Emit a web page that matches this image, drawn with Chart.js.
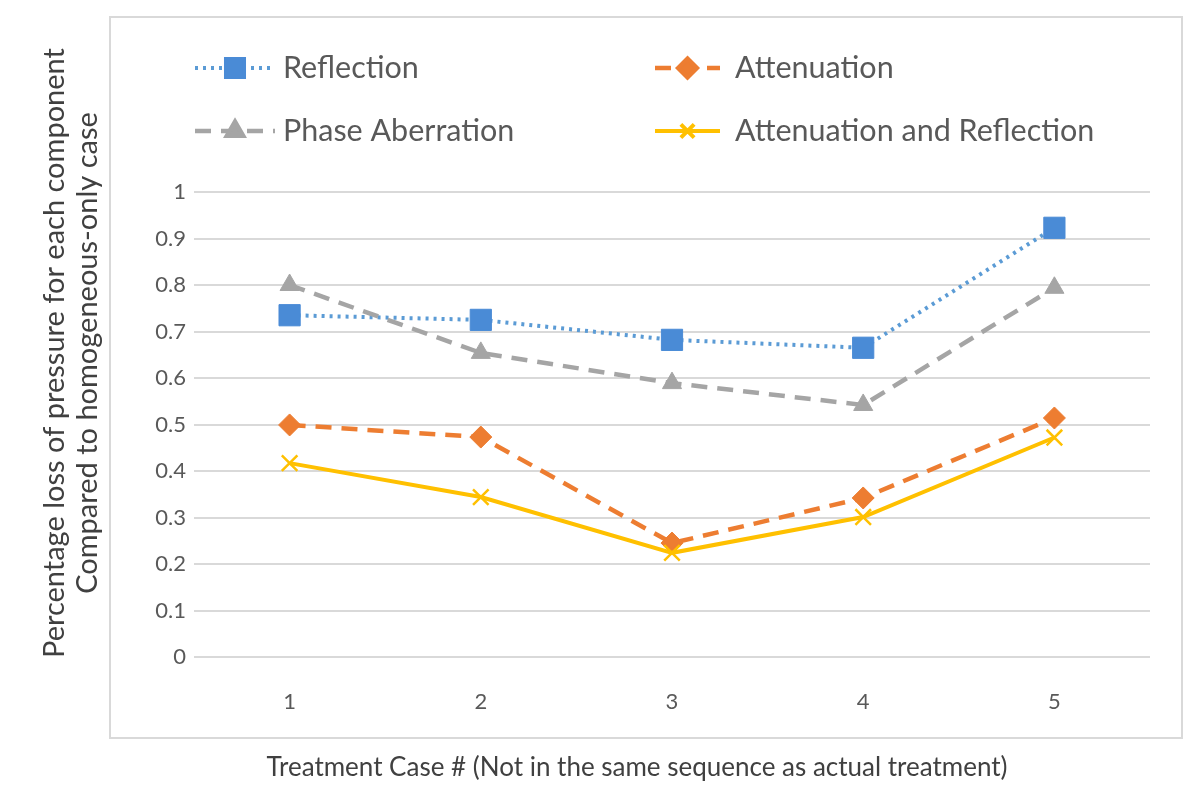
<!DOCTYPE html>
<html lang="en">
<head>
    <meta charset="UTF-8">
    <title>Percentage loss of pressure per component</title>
    <style>
        html, body { margin: 0; padding: 0; background: #fff; }
        #wrap { width: 1200px; height: 793px; }
    </style>
</head>
<body>
    <div id="wrap"><canvas id="lossChart" width="1200" height="793"></canvas></div>
    <script src="https://cdn.jsdelivr.net/npm/chart.js"></script>
    <script>
        // values
        const caseLabels = ["1", "2", "3", "4", "5"];
        const reflection = [0.735, 0.725, 0.682, 0.665, 0.923];
        const attenuation = [0.499, 0.473, 0.245, 0.342, 0.514];
        const phaseAberration = [0.80, 0.654, 0.589, 0.542, 0.794];
        const attenReflection = [0.417, 0.344, 0.224, 0.301, 0.472];
        const seriesNames = ["Reflection", "Attenuation", "Phase Aberration", "Attenuation and Reflection"];
        const yTitle = ["Percentage loss of pressure for each component", "Compared to homogeneous-only case"];
        const xTitle = "Treatment Case # (Not in the same sequence as actual treatment)";

        const FONT = "Lato, 'Open Sans', sans-serif";

        // grey frame, axis titles, legend in two columns
        const decor = {
            id: "decor",
            beforeDraw(chart) {
                const ctx = chart.ctx;
                ctx.save();
                ctx.fillStyle = "#fff";
                ctx.fillRect(0, 0, chart.width, chart.height);
                ctx.strokeStyle = "#d9d9d9";
                ctx.lineWidth = 2;
                ctx.strokeRect(110, 17, 1072, 721);
                ctx.restore();
            },
            afterDraw(chart) {
                const ctx = chart.ctx;
                ctx.save();
                ctx.fillStyle = "#404040";
                ctx.font = "26px " + FONT;
                ctx.textAlign = "center";
                ctx.textBaseline = "middle";
                ctx.fillText(xTitle, 637, 768);
                ctx.font = "29px " + FONT;
                ctx.translate(0, 353);
                ctx.rotate(-Math.PI / 2);
                ctx.fillText(yTitle[0], 0, 55);
                ctx.fillText(yTitle[1], 0, 88);
                ctx.restore();

                // legend
                const spots = [[195, 275, 283, 68], [655, 720, 735, 68], [195, 275, 283, 131], [655, 720, 735, 131]];
                chart.data.datasets.forEach((ds, i) => {
                    const [x0, x1, tx, y] = spots[i];
                    ctx.save();
                    ctx.strokeStyle = ds.borderColor;
                    ctx.lineWidth = ds.borderWidth;
                    ctx.setLineDash(ds.borderDash || []);
                    ctx.beginPath();
                    ctx.moveTo(x0, y);
                    ctx.lineTo(x1, y);
                    ctx.stroke();
                    ctx.setLineDash([]);
                    ctx.fillStyle = ds.pointBackgroundColor;
                    ctx.strokeStyle = ds.pointBorderColor;
                    Chart.helpers.drawPoint(ctx, {
                        pointStyle: ds.pointStyle,
                        radius: ds.pointRadius * 0.85,
                        borderWidth: ds.pointBorderWidth,
                        rotation: 0
                    }, (x0 + x1) / 2, y);
                    ctx.fillStyle = "#595959";
                    ctx.font = "30.5px " + FONT;
                    ctx.textAlign = "left";
                    ctx.textBaseline = "middle";
                    ctx.fillText(ds.label, tx, y);
                    ctx.restore();
                });
            }
        };

        new Chart(document.getElementById("lossChart"), {
            type: "line",
            data: {
                labels: caseLabels,
                datasets: [
                    {
                        label: seriesNames[0],
                        data: reflection,
                        borderColor: "#5b9bd5",
                        borderWidth: 4,
                        borderDash: [3, 5],
                        pointStyle: "rect",
                        pointRadius: 15,
                        pointBackgroundColor: "#4a8bd6",
                        pointBorderColor: "#4a8bd6",
                        pointBorderWidth: 1,
                        order: 4
                    },
                    {
                        label: seriesNames[1],
                        data: attenuation,
                        borderColor: "#ed7d31",
                        borderWidth: 4.5,
                        borderDash: [16, 10],
                        pointStyle: "rectRot",
                        pointRadius: 11,
                        pointBackgroundColor: "#ed7d31",
                        pointBorderColor: "#ed7d31",
                        pointBorderWidth: 1,
                        order: 2
                    },
                    {
                        label: seriesNames[2],
                        data: phaseAberration,
                        borderColor: "#a5a5a5",
                        borderWidth: 4.5,
                        borderDash: [16, 10],
                        pointStyle: "triangle",
                        pointRadius: 11,
                        pointBackgroundColor: "#a5a5a5",
                        pointBorderColor: "#a5a5a5",
                        pointBorderWidth: 1,
                        order: 3
                    },
                    {
                        label: seriesNames[3],
                        data: attenReflection,
                        borderColor: "#ffc000",
                        borderWidth: 4,
                        pointStyle: "crossRot",
                        pointRadius: 11,
                        pointBackgroundColor: "#ffc000",
                        pointBorderColor: "#ffc000",
                        pointBorderWidth: 2.5,
                        order: 1
                    }
                ]
            },
            options: {
                responsive: false,
                animation: false,
                layout: { padding: { top: 192, right: 50, bottom: 0, left: 0 } },
                plugins: {
                    legend: { display: false },
                    tooltip: { enabled: false }
                },
                scales: {
                    x: {
                        offset: true,
                        grid: { display: false },
                        border: { display: false },
                        ticks: { color: "#595959", font: { family: FONT, size: 22 }, padding: 24 },
                        afterFit(scale) { scale.height = 793 - 657; }
                    },
                    y: {
                        min: 0,
                        max: 1,
                        grid: { color: "#d9d9d9", lineWidth: 2, drawTicks: false },
                        border: { display: false },
                        ticks: {
                            stepSize: 0.1,
                            color: "#595959",
                            font: { family: FONT, size: 22 },
                            padding: 8,
                            callback: v => String(Number(v.toFixed(1)))
                        },
                        afterFit(scale) { scale.width = 194; }
                    }
                }
            },
            plugins: [decor]
        });
    </script>
</body>
</html>
